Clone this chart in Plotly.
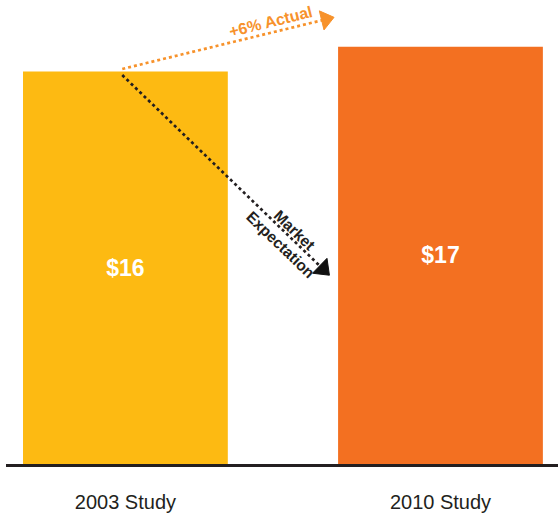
import plotly.graph_objects as go

categories = ["2003 Study", "2010 Study"]
values = [16, 17]
value_labels = ["$16", "$17"]
bar_colors = ["#FDBA12", "#F37021"]

actual_label = "+6% Actual"
expect_label = "Market<br>Expectation"

FONT = "Liberation Sans, Arial, Helvetica, sans-serif"

xs = [0, 1]

fig = go.Figure()
fig.add_trace(go.Bar(
    x=xs, y=values, width=0.65,
    marker=dict(color=bar_colors, line=dict(width=0)),
    text=value_labels, textposition="inside", insidetextanchor="middle",
    textfont=dict(family=FONT, size=23, color="white", weight="bold"),
    constraintext="none", hoverinfo="skip",
))

# arrows start from top of first bar
sx, sy = xs[0] - 0.01, values[0]
# "+6% Actual" arrow (orange dotted)
fig.add_trace(go.Scatter(
    x=[sx, 0.636], y=[sy + 0.1, 18.12], mode="lines+markers",
    line=dict(color="#F7922B", width=2.7, dash="dot"),
    marker=dict(symbol="triangle-up", size=[0, 17], color="#F7922B", opacity=1,
                angleref="previous", line=dict(width=1, color="#F7922B")),
    hoverinfo="skip",
))
# Market expectation arrow (black dotted)
fig.add_trace(go.Scatter(
    x=[sx, 0.627], y=[sy - 0.15, 7.95], mode="lines+markers",
    line=dict(color="#231F20", width=2.7, dash="dot"),
    marker=dict(symbol="triangle-up", size=[0, 18], color="#111111", opacity=1,
                angleref="previous", line=dict(width=1, color="#111111")),
    hoverinfo="skip",
))

fig.add_annotation(x=0.462, y=18.05, text=actual_label, showarrow=False, textangle=-14,
                   font=dict(family=FONT, size=16, color="#F7922B", weight="bold"))
fig.add_annotation(x=0.516, y=9.25, text=expect_label, showarrow=False, textangle=44,
                   font=dict(family=FONT, size=15.5, color="#231F20", weight="bold"),
                   align="center")

fig.update_layout(
    width=558, height=513,
    margin=dict(l=6, r=0, t=0, b=45),
    paper_bgcolor="white", plot_bgcolor="white",
    showlegend=False,
    xaxis=dict(range=[-0.379, 1.373], tickvals=xs, ticktext=categories, showgrid=False,
               zeroline=False, showline=True, linecolor="#231F20", linewidth=3,
               ticks="", ticklabelstandoff=18,
               tickfont=dict(family=FONT, size=20, color="#231F20")),
    yaxis=dict(range=[0, 18.91], visible=False, showgrid=False, zeroline=False),
)

fig.write_html("out.html")
